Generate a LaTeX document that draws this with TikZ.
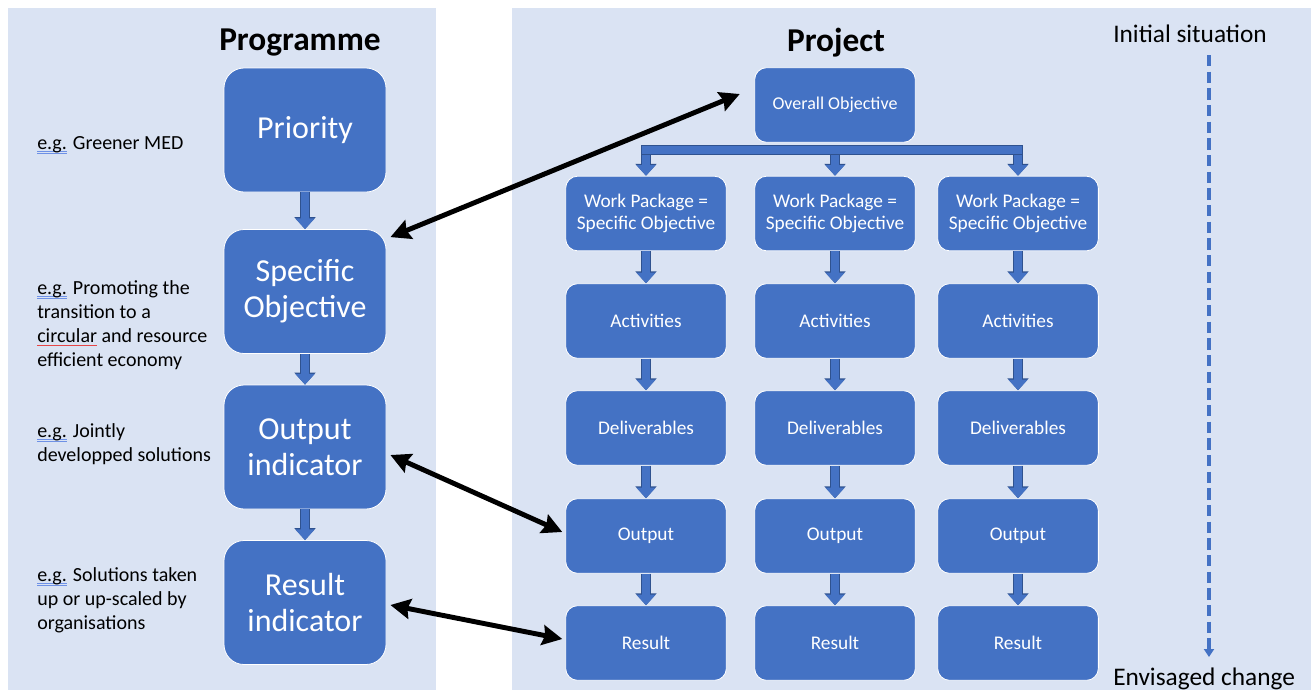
\documentclass[tikz,border=0pt]{standalone}
\usepackage{fontspec}
\setmainfont{Carlito}
\usepackage{tikz}
\usetikzlibrary{arrows.meta}
\definecolor{panel}{RGB}{218, 227, 243}
\definecolor{box}{RGB}{68, 114, 196}
\definecolor{boxdark}{RGB}{47, 82, 143}
\definecolor{spellblue}{RGB}{110, 145, 230}
\definecolor{spellred}{RGB}{230, 70, 70}

% spell-check marks under a word
\newcommand{\spellmark}[1]{\setbox0\hbox{#1}%
  \rlap{\textcolor{spellblue}{\rule[-1.8pt]{\wd0}{0.5pt}}}%
  \rlap{\textcolor{spellblue}{\rule[-3.2pt]{\wd0}{0.5pt}}}#1}
\newcommand{\spellwave}[1]{\setbox0\hbox{#1}%
  \rlap{\textcolor{spellred}{\rule[-2.2pt]{\wd0}{0.5pt}}}#1}

\begin{document}
\begin{tikzpicture}[x=0.75pt, y=-0.75pt,
    bigbox/.style={fill=box, draw=white, line width=0.6pt, rounded corners=15pt,
      minimum width=121.5pt, minimum height=93pt, text=white, align=center,
      font=\fontsize{24}{27}\selectfont},
    smallbox/.style={fill=box, draw=white, line width=0.6pt, rounded corners=9pt,
      minimum width=120.5pt, minimum height=56pt, text=white, align=center,
      font=\fontsize{14.5}{17}\selectfont},
    flow/.style={box, line width=6pt, -{Triangle[length=8pt, width=14pt]},
      preaction={draw=boxdark, line width=7.2pt, -{Triangle[length=9pt, width=15.5pt]}}},
    link/.style={black, line width=3.7pt,
      {Stealth[length=15pt, width=15pt, inset=2pt]}-{Stealth[length=15pt, width=15pt, inset=2pt]}},
    note/.style={anchor=west, align=left, inner sep=0pt, font=\fontsize{15}{18}\selectfont}]
  \useasboundingbox (0, 0) rectangle (1316, 690);

  % panels
  \fill[panel] (8, 8) rectangle (436, 690);
  \fill[panel] (512, 8) rectangle (1311, 690);

  \node[font=\fontsize{25}{30}\selectfont\bfseries] (prog) at (300, 43) {Programme};
  \node[font=\fontsize{25}{30}\selectfont\bfseries] (proj) at (836, 43) {Project};

  % programme side
  \node[bigbox] (pri) at (305, 130) {Priority};
  \node[bigbox] (so) at (305, 291.5) {Specific\\Objective};
  \node[bigbox] (oi) at (305, 447) {Output\\indicator};
  \node[bigbox] (ri) at (305, 602.5) {Result\\indicator};
  \draw[flow] (pri) -- (so);
  \draw[flow] (so) -- (oi);
  \draw[flow] (oi) -- (ri);

  \node[note] (n1) at (37, 145) {\spellmark{e.g.} Greener MED};
  \node[note] (n2) at (37, 325) {\spellmark{e.g.} Promoting the\\transition to a\\\spellwave{circular} and resource\\efficient economy};
  \node[note] (n3) at (37, 444) {\spellmark{e.g.} Jointly\\developped solutions};
  \node[note] (n4) at (37, 600) {\spellmark{e.g.} Solutions taken\\up or up-scaled by\\organisations};

  % project side
  \node[smallbox, font=\fontsize{13.5}{16}\selectfont] (oo) at (835, 105) {Overall Objective};
  \coordinate (bar) at (835, 150);
  \foreach [count=\n] \x in {646, 835, 1018} {
    \node[smallbox] (wp\n) at (\x, 213.5) {Work Package =\\Specific Objective};
    \node[smallbox] (act\n) at (\x, 321) {Activities};
    \node[smallbox] (del\n) at (\x, 428) {Deliverables};
    \node[smallbox] (out\n) at (\x, 536) {Output};
    \node[smallbox] (res\n) at (\x, 643) {Result};
    \draw[flow] (wp\n.north |- bar) -- (wp\n.north);
    \draw[flow] (wp\n) -- (act\n);
    \draw[flow] (act\n) -- (del\n);
    \draw[flow] (del\n) -- (out\n);
    \draw[flow] (out\n) -- (res\n);
  }
  \draw[box, line width=6pt, line cap=rect, preaction={draw=boxdark, line width=7.2pt, line cap=rect}]
    (wp1.north |- bar) -- (wp3.north |- bar);

  % links between programme and project
  \draw[link] ([shift={(4, 8)}]so.north east) -- ([shift={(-14.5, -11)}]oo.west);
  \draw[link] ([shift={(4, 8)}]oi.east) -- ([shift={(-3, -4)}]out1.west);
  \draw[link] ([shift={(4, 2.5)}]ri.east) -- ([shift={(-3, -4)}]res1.west);

  % time axis
  \node[anchor=base west, inner sep=0pt, font=\fontsize{19}{22}\selectfont] (init) at (1113, 42) {Initial situation};
  \node[anchor=base west, inner sep=0pt, font=\fontsize{19}{22}\selectfont] (env) at (1113, 685) {Envisaged change};
  \coordinate (t0) at (1209, 55);
  \coordinate (t1) at (1209, 657);
  \draw[box, line width=2.6pt, dash pattern=on 8.5pt off 4pt, -{Triangle[length=6pt, width=7.5pt]}] (t0) -- (t1);
\end{tikzpicture}
\end{document}
